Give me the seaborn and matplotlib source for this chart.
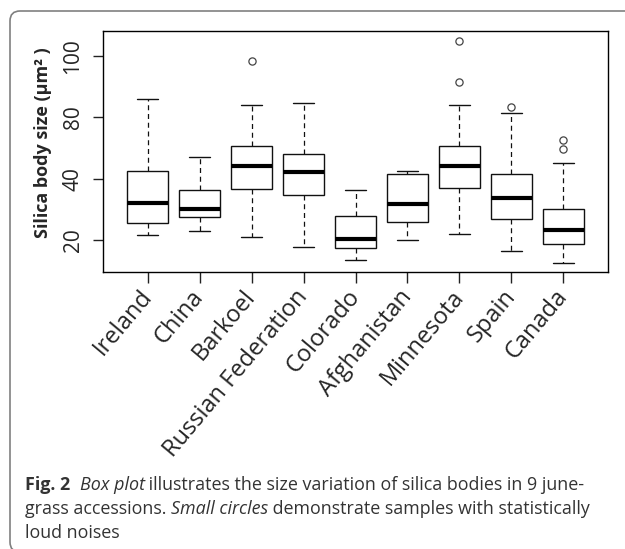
import numpy as np
import pandas as pd
import matplotlib
matplotlib.use("Agg")
import matplotlib.pyplot as plt
import seaborn as sns
from matplotlib.patches import FancyBboxPatch
from matplotlib.transforms import IdentityTransform

# ---------------- data ----------------
categories = ["Ireland", "China", "Barkoel", "Russian Federation", "Colorado",
              "Afghanistan", "Minnesota", "Spain", "Canada"]
whisker_low = [21.5, 22.8, 21.1, 17.6, 13.4, 20.0, 21.9, 16.5, 12.5]
q1 = [25.4, 27.4, 36.7, 34.8, 17.5, 25.9, 37.05, 26.9, 18.7]
median = [32.1, 30.0, 44.2, 42.3, 20.4, 31.7, 44.2, 33.6, 23.3]
q3 = [42.6, 36.3, 50.75, 48.0, 27.7, 41.5, 50.55, 41.5, 30.1]
whisker_high = [66.0, 47.0, 64.1, 64.8, 36.3, 42.6, 64.1, 61.3, 45.2]
outlier_groups = ["Barkoel", "Minnesota", "Minnesota", "Spain", "Canada", "Canada"]
outlier_values = [78.5, 71.5, 85.0, 63.5, 49.7, 52.7]
ytick_positions = [20, 40, 60, 80]
ytick_labels = ["20", "40", "80", "100"]
ylabel_text = "Silica body size (µm² )"
caption_lines = [
    [("Fig. 2", "bold"), ("  ", "normal"), ("Box plot", "italic"),
     (" illustrates the size variation of silica bodies in 9 june-", "normal")],
    [("grass accessions. ", "normal"), ("Small circles", "italic"),
     (" demonstrate samples with statistically", "normal")],
    [("loud noises", "normal")],
]

# ---------------- style ----------------
sns.set_theme(style="ticks")
plt.rcParams["font.family"] = ["Open Sans", "DejaVu Sans"]

W, H = 625, 549
fig = plt.figure(figsize=(W / 100, H / 100), dpi=100)
fig.patch.set_facecolor("white")

L, R, T, B = 103, 608, 31, 272
ax = fig.add_axes([L / W, 1 - B / H, (R - L) / W, (B - T) / H])
ax.set_facecolor("white")

rows = []
for c, a, b, m, d, e in zip(categories, whisker_low, q1, median, q3, whisker_high):
    for v in (a, b, m, d, e):
        rows.append({"group": c, "value": v})
box_df = pd.DataFrame(rows)
out_df = pd.DataFrame({"group": outlier_groups, "value": outlier_values})

sns.boxplot(data=box_df, x="group", y="value", order=categories,
            color="white", saturation=1, linecolor="#111111", linewidth=1.0,
            width=0.8, whis=(0, 100), showfliers=False,
            medianprops=dict(linewidth=3.0, color="black", solid_capstyle="butt"),
            whiskerprops=dict(linestyle=(0, (4, 3)), linewidth=0.9),
            capprops=dict(linewidth=1.0),
            ax=ax)
sns.stripplot(data=out_df, x="group", y="value", order=categories,
              jitter=False, color="white", edgecolor="#444444", linewidth=0.9,
              size=5.2, ax=ax)

ax.set_xlim(-0.86, 8.86)
ax.set_ylim(9.57, 88.15)
ax.set_yticks(ytick_positions)
ax.set_yticklabels(ytick_labels, rotation=90, va="center", fontsize=15)
ax.set_xticks(range(len(categories)))
ax.set_xticklabels(categories, rotation=50, ha="right", va="center",
                   rotation_mode="anchor", fontsize=17)
ax.tick_params(axis="y", length=7, width=1, pad=7, color="#222222")
ax.tick_params(axis="x", length=8, width=1, pad=7, color="#222222")
for s in ax.spines.values():
    s.set_visible(True)
    s.set_color("black")
    s.set_linewidth(1.0)
ax.set_xlabel("")
ax.set_ylabel(ylabel_text, fontsize=13, fontweight="bold", va="center")
ax.yaxis.set_label_coords((43 - L) / (R - L), (B - 143) / (B - T))

# ---------------- outer rounded frame ----------------
frame = FancyBboxPatch((10, -3), 700, H - 11 + 3,
                       boxstyle="round,pad=0,rounding_size=10",
                       transform=IdentityTransform(), fill=False,
                       edgecolor="#808080", linewidth=1.2)
fig.add_artist(frame)

# ---------------- caption ----------------
renderer = fig.canvas.get_renderer()
cap_size = 12.9
baselines = [490, 514, 538]


def advance(txt, weight, style):
    probe = fig.text(0, 0, txt + "|", fontsize=cap_size, fontweight=weight, fontstyle=style)
    ref = fig.text(0, 0, "|", fontsize=cap_size, fontweight=weight, fontstyle=style)
    w = probe.get_window_extent(renderer).width - ref.get_window_extent(renderer).width
    probe.remove()
    ref.remove()
    return w


for line, yb in zip(caption_lines, baselines):
    x = 25
    for txt, kind in line:
        weight = "bold" if kind == "bold" else "normal"
        style = "italic" if kind == "italic" else "normal"
        fig.text(x / W, 1 - yb / H, txt, fontsize=cap_size, fontweight=weight,
                 fontstyle=style, color="#333333", va="baseline", ha="left")
        x += advance(txt, weight, style)

fig.savefig("out.png", dpi=100, facecolor="white")
